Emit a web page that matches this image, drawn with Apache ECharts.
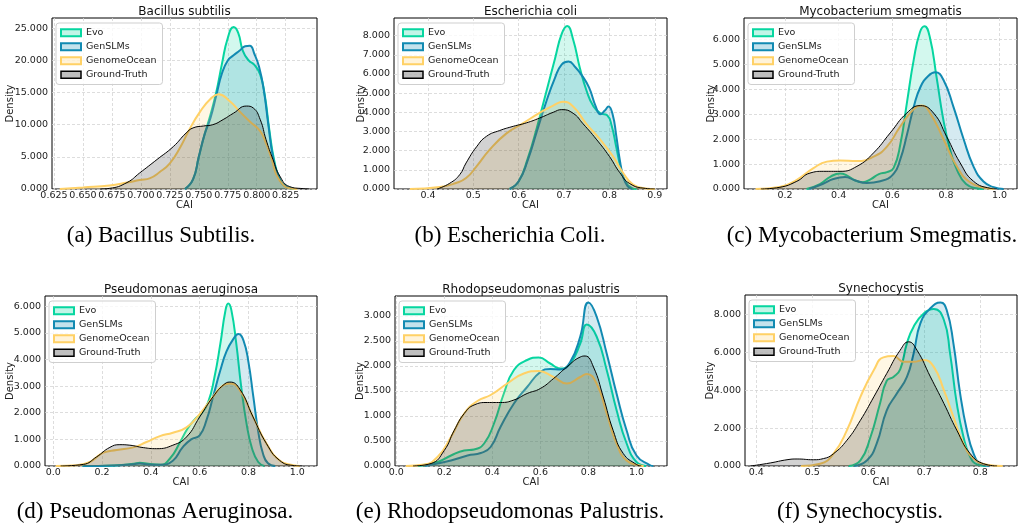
<!DOCTYPE html>
<html>
<head>
<meta charset="utf-8">
<script src="https://cdn.jsdelivr.net/npm/echarts@6/dist/echarts.min.js"></script>
<style>
  html, body { margin: 0; padding: 0; background: #fff; }
  #main { width: 1018px; height: 525px; }
</style>
</head>
<body>
<div id="main"></div>
<script>
// series names and colours (Evo, GenSLMs, GenomeOcean, Ground-Truth)
const names = ['Evo', 'GenSLMs', 'GenomeOcean', 'Ground-Truth'];
const lineColors = ['#06d6a0', '#118ab2', '#ffd166', '#000000'];
const fillColors = ['rgba(6,214,160,0.25)', 'rgba(17,138,178,0.25)', 'rgba(255,209,102,0.25)', 'rgba(0,0,0,0.25)'];
const lineWidths = [2, 2, 2, 1];

const titles = ['Bacillus subtilis', 'Escherichia coli', 'Mycobacterium smegmatis',
  'Pseudomonas aeruginosa', 'Rhodopseudomonas palustris', 'Synechocystis'];
const captions = ['(a) Bacillus Subtilis.', '(b) Escherichia Coli.', '(c) Mycobacterium Smegmatis.',
  '(d) Pseudomonas Aeruginosa.', '(e) Rhodopseudomonas Palustris.', '(f) Synechocystis.'];

const xTicks = [
  [0.625, 0.65, 0.675, 0.7, 0.725, 0.75, 0.775, 0.8, 0.825],
  [0.4, 0.5, 0.6, 0.7, 0.8, 0.9],
  [0.2, 0.4, 0.6, 0.8, 1.0],
  [0.0, 0.2, 0.4, 0.6, 0.8, 1.0],
  [0.0, 0.2, 0.4, 0.6, 0.8, 1.0],
  [0.4, 0.5, 0.6, 0.7, 0.8]
];
const xDecimals = [3, 1, 1, 1, 1, 1];
const yTicks = [
  [0, 5, 10, 15, 20, 25],
  [0, 1, 2, 3, 4, 5, 6, 7, 8],
  [0, 1, 2, 3, 4, 5, 6],
  [0, 1, 2, 3, 4, 5, 6],
  [0, 0.5, 1, 1.5, 2, 2.5, 3],
  [0, 2, 4, 6, 8]
];
const xRange = [[0.6233, 0.852], [0.325, 0.927], [0.047, 1.065], [-0.034, 1.081], [-0.005, 1.127], [0.38, 0.8655]];
const yMax = [26.6, 8.92, 6.87, 6.38, 3.40, 9.02];

// KDE curves, [CAI, density]
// (a) Bacillus subtilis
const bsEvo = [[0.738,0],[0.745,1.5],[0.750,5.0],[0.755,8.5],[0.760,11.5],[0.765,15.0],[0.770,19.5],[0.775,23.5],[0.780,25.2],[0.784,24.3],[0.788,21.5],[0.793,20.0],[0.798,19.3],[0.803,17.8],[0.807,14.5],[0.811,9.0],[0.815,4.5],[0.820,1.5],[0.826,0.3],[0.833,0]];
const bsGen = [[0.738,0],[0.745,1.5],[0.750,5.0],[0.755,8.5],[0.760,11.0],[0.765,14.5],[0.770,18.0],[0.775,20.0],[0.780,20.8],[0.785,21.5],[0.790,22.2],[0.794,22.3],[0.798,21.0],[0.802,19.0],[0.806,15.5],[0.810,10.0],[0.814,5.0],[0.819,1.8],[0.825,0.4],[0.832,0]];
const bsOcean = [[0.630,0],[0.650,0.25],[0.673,0.55],[0.688,1.0],[0.699,1.4],[0.708,1.7],[0.716,2.6],[0.725,4.0],[0.734,6.5],[0.742,9.3],[0.751,12.0],[0.760,14.0],[0.767,14.75],[0.777,13.6],[0.785,12.1],[0.794,10.5],[0.803,9.0],[0.808,7.1],[0.813,4.6],[0.817,2.2],[0.823,0.6],[0.828,0.1],[0.835,0]];
const bsTruth = [[0.665,0],[0.673,0.1],[0.688,1.0],[0.699,2.5],[0.714,4.6],[0.728,6.6],[0.739,8.7],[0.745,9.5],[0.754,9.8],[0.762,10.0],[0.771,10.8],[0.780,11.8],[0.791,12.9],[0.797,12.6],[0.803,10.8],[0.808,7.7],[0.814,4.6],[0.820,2.0],[0.828,0.4],[0.840,0.05],[0.845,0]];
// (b) Escherichia coli
const ecEvo = [[0.58,0],[0.60,0.4],[0.62,1.6],[0.64,3.2],[0.66,5.0],[0.68,6.8],[0.695,8.1],[0.707,8.5],[0.72,7.8],[0.735,6.3],[0.75,5.1],[0.765,4.3],[0.78,3.95],[0.795,3.85],[0.805,3.3],[0.815,2.2],[0.825,1.1],[0.835,0.4],[0.85,0.05],[0.86,0]];
const ecGen = [[0.58,0],[0.60,0.4],[0.62,1.5],[0.64,3.0],[0.66,4.5],[0.68,5.8],[0.695,6.5],[0.71,6.65],[0.725,6.35],[0.74,5.9],[0.755,5.3],[0.77,4.3],[0.78,3.9],[0.79,4.1],[0.798,4.3],[0.807,3.9],[0.815,2.8],[0.823,1.5],[0.831,0.6],[0.84,0.15],[0.85,0]];
const ecOcean = [[0.36,0],[0.426,0.1],[0.46,0.3],[0.484,0.57],[0.507,1.18],[0.536,2.05],[0.573,2.9],[0.61,3.44],[0.646,3.97],[0.676,4.35],[0.698,4.55],[0.72,4.3],[0.749,3.4],[0.779,2.6],[0.808,1.7],[0.83,0.85],[0.852,0.23],[0.88,0.03],[0.9,0]];
const ecTruth = [[0.42,0],[0.448,0.3],[0.47,0.75],[0.484,1.36],[0.507,2.2],[0.529,2.75],[0.558,3.05],[0.588,3.27],[0.617,3.45],[0.646,3.7],[0.676,4.0],[0.695,4.14],[0.72,3.95],[0.742,3.4],[0.771,2.6],[0.80,1.7],[0.823,0.85],[0.845,0.28],[0.88,0.03],[0.9,0]];
// (c) Mycobacterium smegmatis
const msEvo = [[0.28,0],[0.33,0.2],[0.37,0.5],[0.405,0.62],[0.43,0.55],[0.46,0.35],[0.49,0.27],[0.52,0.4],[0.55,0.6],[0.58,0.68],[0.605,0.85],[0.63,1.8],[0.655,3.5],[0.68,5.2],[0.703,6.3],[0.72,6.54],[0.74,6.1],[0.765,4.5],[0.79,2.8],[0.815,1.6],[0.84,0.8],[0.875,0.2],[0.92,0.02],[0.94,0]];
const msGen = [[0.29,0],[0.34,0.2],[0.38,0.4],[0.424,0.48],[0.46,0.35],[0.505,0.24],[0.555,0.31],[0.604,0.6],[0.63,1.2],[0.655,2.2],[0.68,3.3],[0.705,4.1],[0.735,4.55],[0.76,4.69],[0.79,4.4],[0.828,3.3],[0.866,2.0],[0.903,0.9],[0.94,0.3],[0.978,0.07],[1.015,0]];
const msOcean = [[0.09,0],[0.18,0.08],[0.244,0.37],[0.306,0.84],[0.356,1.1],[0.405,1.15],[0.468,1.12],[0.53,1.3],[0.58,1.7],[0.629,2.5],[0.679,3.2],[0.71,3.35],[0.741,3.05],[0.791,2.0],[0.841,0.9],[0.89,0.27],[0.953,0.03],[0.98,0]];
const msTruth = [[0.11,0],[0.181,0.07],[0.244,0.31],[0.293,0.64],[0.343,0.71],[0.405,0.71],[0.468,0.91],[0.53,1.45],[0.592,2.25],[0.654,3.05],[0.704,3.35],[0.754,3.05],[0.803,2.1],[0.853,1.05],[0.903,0.31],[0.965,0.03],[0.99,0]];
// (d) Pseudomonas aeruginosa
const paEvo = [[0.12,0],[0.25,0.02],[0.33,0.08],[0.355,0.12],[0.39,0.08],[0.44,0.05],[0.48,0.3],[0.52,0.9],[0.55,1.4],[0.58,1.75],[0.607,1.97],[0.635,2.4],[0.66,3.3],[0.685,4.6],[0.705,5.8],[0.717,6.1],[0.73,5.85],[0.75,4.6],[0.77,3.0],[0.792,1.6],[0.815,0.65],[0.84,0.15],[0.865,0]];
const paGen = [[0.12,0],[0.25,0.02],[0.33,0.07],[0.355,0.09],[0.39,0.06],[0.44,0.05],[0.49,0.2],[0.53,0.7],[0.565,1.0],[0.6,1.15],[0.628,1.72],[0.655,2.6],[0.685,3.6],[0.71,4.3],[0.737,4.75],[0.759,4.95],[0.78,4.7],[0.80,3.9],[0.82,2.6],[0.84,1.3],[0.86,0.45],[0.88,0.1],[0.91,0]];
const paOcean = [[0.01,0],[0.096,0.03],[0.15,0.15],[0.205,0.5],[0.26,0.6],[0.328,0.7],[0.382,0.9],[0.437,1.12],[0.49,1.25],[0.546,1.45],[0.6,1.95],[0.655,2.6],[0.696,3.03],[0.724,3.1],[0.765,2.84],[0.819,1.84],[0.874,0.84],[0.928,0.21],[0.983,0.03],[1.01,0]];
const paTruth = [[0.03,0],[0.123,0.06],[0.177,0.34],[0.232,0.7],[0.273,0.8],[0.314,0.78],[0.369,0.69],[0.423,0.65],[0.49,0.78],[0.546,1.09],[0.6,1.84],[0.655,2.6],[0.696,3.03],[0.724,3.15],[0.765,2.88],[0.819,1.84],[0.874,0.84],[0.928,0.21],[0.983,0.02],[1.02,0]];
// (e) Rhodopseudomonas palustris
const rpEvo = [[0.09,0],[0.172,0.08],[0.228,0.21],[0.283,0.31],[0.324,0.33],[0.366,0.45],[0.407,0.85],[0.448,1.45],[0.49,1.92],[0.545,2.12],[0.593,2.17],[0.641,2.05],[0.683,1.95],[0.724,2.05],[0.766,2.45],[0.793,2.83],[0.834,2.59],[0.876,1.92],[0.917,1.12],[0.959,0.45],[1.0,0.08],[1.04,0]];
const rpGen = [[0.12,0],[0.228,0.11],[0.297,0.21],[0.352,0.26],[0.393,0.38],[0.434,0.78],[0.49,1.25],[0.545,1.58],[0.6,1.88],[0.641,1.94],[0.683,1.93],[0.724,2.08],[0.766,2.59],[0.8,3.27],[0.834,2.99],[0.876,2.25],[0.917,1.45],[0.959,0.71],[1.0,0.21],[1.055,0.02],[1.07,0]];
const rpOcean = [[0.04,0],[0.117,0.03],[0.172,0.18],[0.228,0.58],[0.283,1.05],[0.338,1.3],[0.393,1.42],[0.462,1.65],[0.531,1.85],[0.593,1.9],[0.655,1.78],[0.71,1.65],[0.766,1.78],[0.793,1.84],[0.834,1.65],[0.876,1.05],[0.917,0.45],[0.959,0.11],[1.014,0.01],[1.03,0]];
const rpTruth = [[0.07,0],[0.145,0.05],[0.2,0.31],[0.241,0.71],[0.283,1.05],[0.324,1.22],[0.379,1.27],[0.434,1.27],[0.49,1.32],[0.545,1.45],[0.6,1.55],[0.655,1.75],[0.71,1.98],[0.766,2.18],[0.786,2.2],[0.821,1.98],[0.862,1.38],[0.903,0.71],[0.945,0.25],[1.0,0.03],[1.02,0]];
// (f) Synechocystis
const syEvo = [[0.565,0],[0.586,0.3],[0.604,1.53],[0.621,3.3],[0.633,4.5],[0.645,4.7],[0.657,5.1],[0.669,6.47],[0.681,7.35],[0.699,8.05],[0.717,8.28],[0.735,7.7],[0.746,5.94],[0.758,3.3],[0.77,1.53],[0.782,0.48],[0.794,0.09],[0.81,0]];
const syGen = [[0.575,0],[0.598,0.3],[0.615,1.18],[0.633,2.94],[0.651,3.82],[0.669,4.7],[0.681,5.94],[0.693,7.52],[0.711,8.32],[0.729,8.62],[0.74,8.23],[0.752,6.47],[0.764,3.82],[0.776,1.89],[0.788,0.65],[0.8,0.12],[0.815,0]];
const syOcean = [[0.48,0],[0.514,0.12],[0.538,0.65],[0.562,1.89],[0.586,3.65],[0.61,5.06],[0.627,5.73],[0.645,5.8],[0.663,5.5],[0.681,5.5],[0.699,5.59],[0.717,5.23],[0.735,4.0],[0.752,2.59],[0.77,1.18],[0.788,0.39],[0.812,0.07],[0.84,0]];
const syTruth = [[0.39,0],[0.425,0.16],[0.455,0.33],[0.473,0.37],[0.502,0.33],[0.52,0.39],[0.538,0.65],[0.562,1.36],[0.586,2.41],[0.61,3.65],[0.633,4.88],[0.657,6.11],[0.672,6.55],[0.687,6.11],[0.711,4.7],[0.735,3.3],[0.758,1.89],[0.782,0.65],[0.806,0.12],[0.83,0]];

const curves = [
  [bsEvo, bsGen, bsOcean, bsTruth],
  [ecEvo, ecGen, ecOcean, ecTruth],
  [msEvo, msGen, msOcean, msTruth],
  [paEvo, paGen, paOcean, paTruth],
  [rpEvo, rpGen, rpOcean, rpTruth],
  [syEvo, syGen, syOcean, syTruth]
];

// pixel layout of the six panels
const layout = [
  {left: 52,  top: 18,  width: 265, height: 171, cap: [161, 236], yGap: 37},
  {left: 394, top: 18,  width: 273, height: 171, cap: [510, 236], yGap: 28},
  {left: 744, top: 18,  width: 273, height: 171, cap: [872, 236], yGap: 28},
  {left: 45,  top: 296, width: 272, height: 170, cap: [155, 512], yGap: 30},
  {left: 395, top: 296, width: 272, height: 170, cap: [510, 512], yGap: 30},
  {left: 745, top: 295, width: 272, height: 171, cap: [860, 512], yGap: 30}
];

const FONT = '"DejaVu Sans", sans-serif';
const grids = [], xAxes = [], yAxes = [], series = [], legends = [], texts = [];

layout.forEach(function (p, i) {
  grids.push({left: p.left, top: p.top, width: p.width, height: p.height,
    show: true, borderColor: '#000', borderWidth: 1, backgroundColor: 'transparent'});
  xAxes.push({
    gridIndex: i, type: 'value', min: xRange[i][0], max: xRange[i][1],
    name: 'CAI', nameLocation: 'middle', nameGap: 11, nameMoveOverlap: false,
    nameTextStyle: {fontSize: 10, color: '#222', fontFamily: FONT},
    axisLine: {show: false},
    axisTick: {show: false, customValues: xTicks[i]},
    axisLabel: {customValues: xTicks[i], margin: 2, fontSize: 9.5, color: '#222', fontFamily: FONT,
      formatter: function (v) { return Number(v).toFixed(xDecimals[i]); }},
    splitLine: {show: true, lineStyle: {color: '#d4d4d4', type: [3, 2], width: 0.8}}
  });
  yAxes.push({
    gridIndex: i, type: 'value', min: 0, max: yMax[i],
    name: 'Density', nameLocation: 'middle', nameGap: p.yGap, nameMoveOverlap: false,
    nameTextStyle: {fontSize: 10, color: '#222', fontFamily: FONT},
    axisLine: {show: false},
    axisTick: {show: false, customValues: yTicks[i]},
    axisLabel: {customValues: yTicks[i], margin: 4, fontSize: 9.5, color: '#222', fontFamily: FONT,
      formatter: function (v) { return Number(v).toFixed(3); }},
    splitLine: {show: true, lineStyle: {color: '#d4d4d4', type: [3, 2], width: 0.8}}
  });
  curves[i].forEach(function (data, k) {
    series.push({
      name: names[k], type: 'line', xAxisIndex: i, yAxisIndex: i,
      data: data, smooth: 0.5, symbol: 'none',
      lineStyle: {color: lineColors[k], width: lineWidths[k]},
      itemStyle: {color: lineColors[k]},
      areaStyle: {color: fillColors[k], origin: 'start'},
      z: 2 + k
    });
  });
  legends.push({
    left: p.left + 4, top: p.top + 5, orient: 'vertical',
    backgroundColor: 'rgba(255,255,255,0.8)', borderColor: '#cfcfcf', borderWidth: 1, borderRadius: 3,
    padding: [4, 6, 4, 4], itemWidth: 20, itemHeight: 7, itemGap: 2.5,
    textStyle: {fontSize: 9.5, color: '#222', fontFamily: FONT, lineHeight: 11.5},
    data: names.map(function (n, k) {
      return {name: n, icon: 'rect',
        itemStyle: {color: fillColors[k], borderColor: lineColors[k], borderWidth: k === 3 ? 1.5 : 2}};
    })
  });
  texts.push({type: 'text', x: p.left + p.width / 2, y: p.top - 6,
    style: {text: titles[i], font: '12px ' + FONT, fill: '#111', textAlign: 'center', textVerticalAlign: 'middle'}});
  texts.push({type: 'text', x: p.cap[0], y: p.cap[1],
    style: {text: captions[i], font: '23px "Liberation Serif", "Times New Roman", serif', fill: '#000',
      textAlign: 'center', textVerticalAlign: 'middle'}});
});

const myChart = echarts.init(document.getElementById('main'), null, {renderer: 'canvas'});
myChart.setOption({
  backgroundColor: '#fff',
  animation: false,
  grid: grids,
  xAxis: xAxes,
  yAxis: yAxes,
  legend: legends,
  graphic: {elements: texts},
  series: series
});
</script>
</body>
</html>
